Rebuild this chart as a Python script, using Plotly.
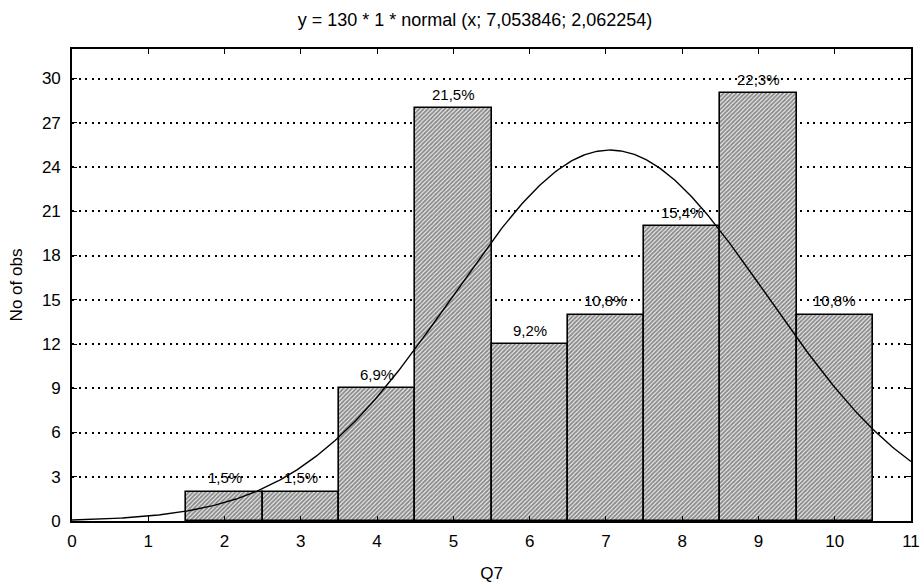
import numpy as np
import plotly.graph_objects as go

# Histogram of Q7 responses (bin centres and counts)
categories = [2, 3, 4, 5, 6, 7, 8, 9, 10]
counts = [2, 2, 9, 28, 12, 14, 20, 29, 14]

# Fitted normal curve parameters
n_total = 130
bin_width = 1
mu = 7.053846
sigma = 2.062254

y_ticks = list(range(0, 31, 3))
x_ticks = list(range(0, 12))

FONT = "Liberation Sans, Arial, sans-serif"

pct_labels = [f"{c / n_total * 100:.1f}%".replace(".", ",") for c in counts]

xs = np.linspace(0, 11, 400)
ys = n_total * bin_width * np.exp(-0.5 * ((xs - mu) / sigma) ** 2) / (sigma * np.sqrt(2 * np.pi))

fig = go.Figure()
fig.add_trace(go.Bar(
    x=categories, y=counts, width=1,
    marker=dict(
        color="white",
        line=dict(color="black", width=1.6),
        pattern=dict(shape="/", size=3, solidity=0.65, fgcolor="#222222", bgcolor="#f4f4f4"),
    ),
    showlegend=False, hoverinfo="skip",
))
fig.add_trace(go.Scatter(
    x=xs, y=ys, mode="lines", line=dict(color="black", width=1.4),
    showlegend=False, hoverinfo="skip",
))

for cx, cy, lab in zip(categories, counts, pct_labels):
    fig.add_annotation(x=cx, y=cy, text=lab, showarrow=False, yanchor="middle",
                       yshift=14, font=dict(family=FONT, size=15, color="black"))

fig.update_layout(
    width=924, height=588,
    margin=dict(l=72, r=13, t=49, b=67),
    paper_bgcolor="white", plot_bgcolor="white",
    bargap=0,
    font=dict(family=FONT, size=17, color="black"),
    title=dict(text="y = 130 * 1 * normal (x; 7,053846; 2,062254)",
               x=475 / 924, xanchor="center", xref="container",
               y=1 - 20 / 588, yanchor="middle", yref="container",
               font=dict(family=FONT, size=18, color="black")),
)
fig.update_xaxes(
    range=[0, 11], tickvals=x_ticks, ticks="inside", ticklen=5, tickcolor="black",
    showline=True, linecolor="black", linewidth=1.6, mirror="ticks",
    showgrid=False, zeroline=False, ticklabelstandoff=4, automargin=False,
    title=dict(text="Q7", standoff=17, font=dict(family=FONT, size=17)),
    tickfont=dict(family=FONT, size=17),
)
fig.update_yaxes(
    range=[0, 32], tickvals=y_ticks, ticks="inside", ticklen=5, tickcolor="black",
    showline=True, linecolor="black", linewidth=1.6, mirror="ticks",
    showgrid=True, gridcolor="black", gridwidth=1.5, griddash="2px,4.5px",
    zeroline=False, ticklabelstandoff=6, automargin=False,
    title=dict(text="No of obs", standoff=15, font=dict(family=FONT, size=17)),
    tickfont=dict(family=FONT, size=17),
)

fig.write_html("out.html")
